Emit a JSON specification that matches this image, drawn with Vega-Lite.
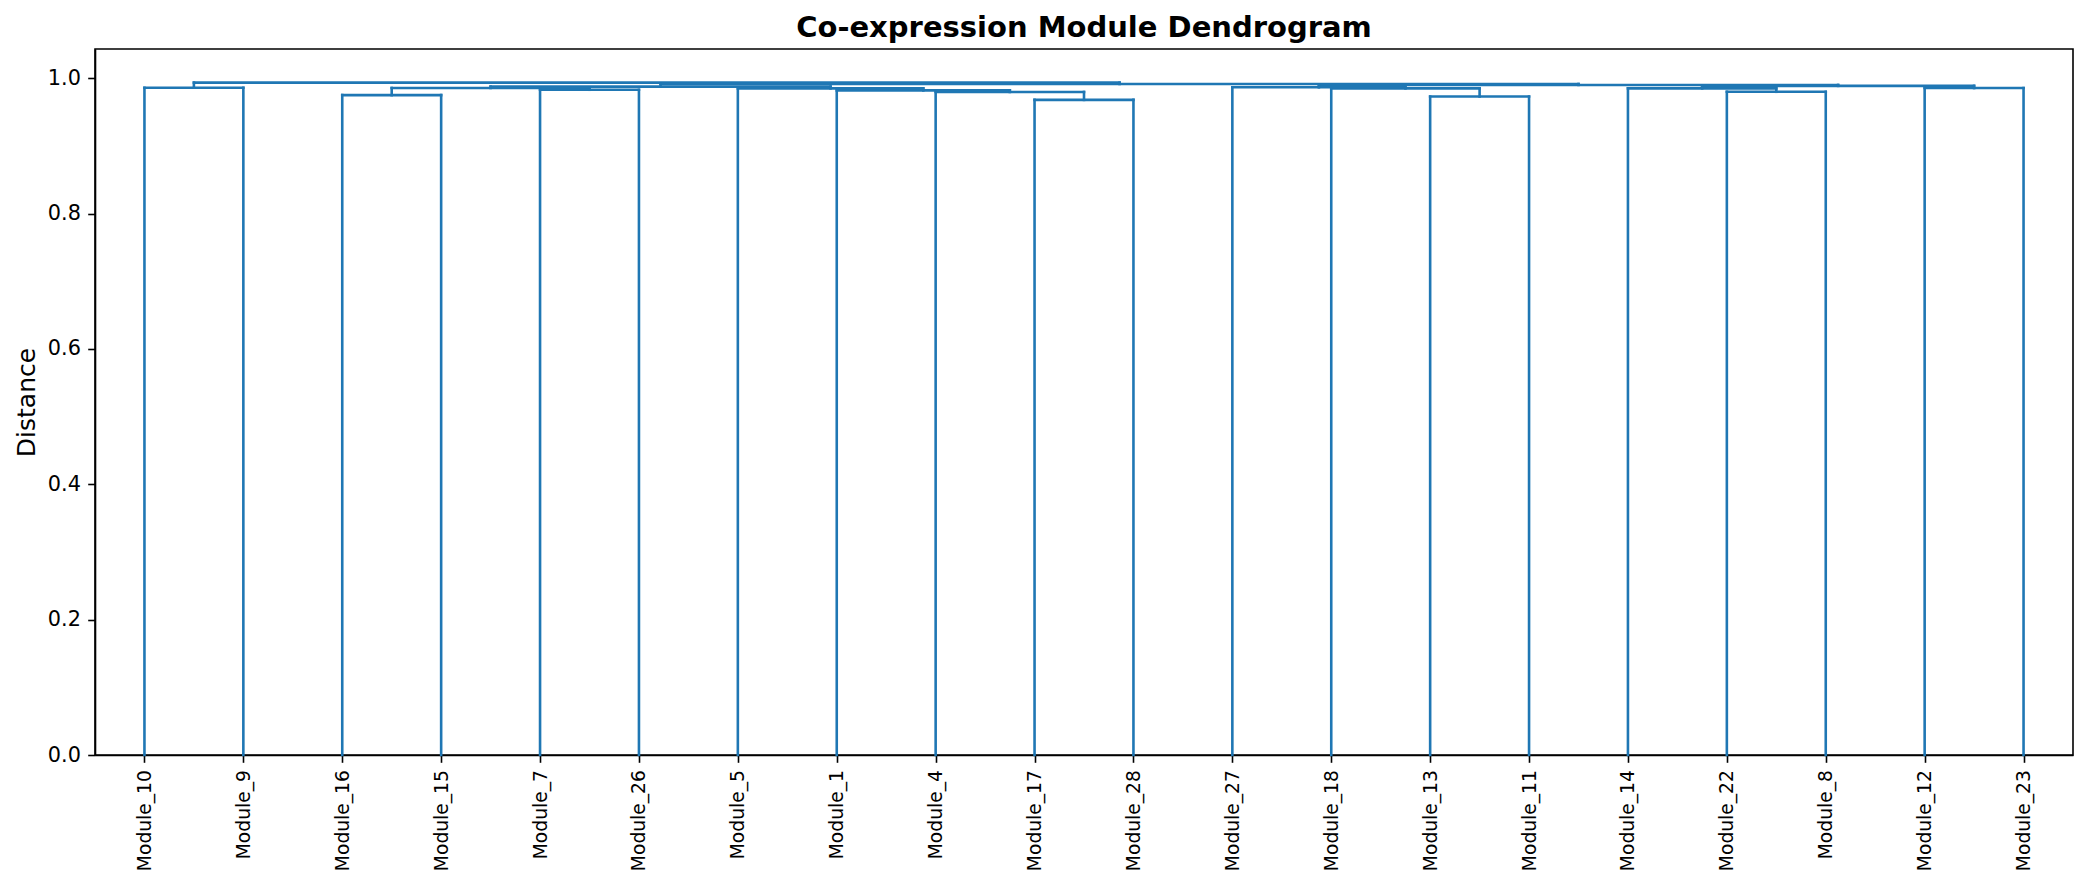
{
  "$schema": "https://vega.github.io/schema/vega-lite/v6.json",
  "width": 1978,
  "height": 706,
  "autosize": {"type": "none"},
  "padding": {"left": 95, "top": 49, "right": 9, "bottom": 129},
  "background": "white",
  "title": {
    "text": "Co-expression Module Dendrogram",
    "font": "DejaVu Sans",
    "fontSize": 29,
    "fontWeight": "bold",
    "color": "black",
    "anchor": "middle",
    "frame": "group",
    "baseline": "alphabetic",
    "offset": 12.5,
    "dy": 29.5
  },
  "config": {
    "view": {"stroke": "black", "strokeWidth": 1.6},
    "axis": {
      "domainColor": "black",
      "domainWidth": 1.6,
      "tickColor": "black",
      "tickWidth": 1.6,
      "tickSize": 7.3,
      "labelColor": "black",
      "labelFont": "DejaVu Sans",
      "labelPadding": 7.3,
      "grid": false,
      "titleFont": "DejaVu Sans",
      "titleColor": "black",
      "titleFontWeight": "normal"
    },
    "axisX": {"labelFontSize": 18.7},
    "axisY": {"labelFontSize": 20.8, "titleFontSize": 25, "titlePadding": 8}
  },
  "data": {
    "values": [
      {"link": "M10+M9", "xl": 0, "xr": 1, "h": 0.986, "hl": 0, "hr": 0},
      {"link": "M16+M15", "xl": 2, "xr": 3, "h": 0.975, "hl": 0, "hr": 0},
      {"link": "M7+M26", "xl": 4, "xr": 5, "h": 0.983, "hl": 0, "hr": 0},
      {"link": "L1", "xl": 2.5, "xr": 4.5, "h": 0.9856, "hl": 0.975, "hr": 0.983},
      {"link": "M17+M28", "xl": 9, "xr": 10, "h": 0.968, "hl": 0, "hr": 0},
      {"link": "M4+", "xl": 8, "xr": 9.5, "h": 0.9797, "hl": 0, "hr": 0.968},
      {"link": "M1+", "xl": 7, "xr": 8.75, "h": 0.982, "hl": 0, "hr": 0.9797},
      {"link": "M5+", "xl": 6, "xr": 7.875, "h": 0.985, "hl": 0, "hr": 0.982},
      {"link": "L", "xl": 3.5, "xr": 6.9375, "h": 0.9876, "hl": 0.9856, "hr": 0.985},
      {"link": "M13+M11", "xl": 13, "xr": 14, "h": 0.973, "hl": 0, "hr": 0},
      {"link": "M18+", "xl": 12, "xr": 13.5, "h": 0.985, "hl": 0, "hr": 0.973},
      {"link": "M27+", "xl": 11, "xr": 12.75, "h": 0.9866, "hl": 0, "hr": 0.985},
      {"link": "M22+M8", "xl": 16, "xr": 17, "h": 0.98, "hl": 0, "hr": 0},
      {"link": "M14+", "xl": 15, "xr": 16.5, "h": 0.985, "hl": 0, "hr": 0.98},
      {"link": "M12+M23", "xl": 18, "xr": 19, "h": 0.9855, "hl": 0, "hr": 0},
      {"link": "R2", "xl": 15.75, "xr": 18.5, "h": 0.9887, "hl": 0.985, "hr": 0.9855},
      {"link": "R", "xl": 11.875, "xr": 17.125, "h": 0.9901, "hl": 0.9866, "hr": 0.9887},
      {"link": "rest", "xl": 5.21875, "xr": 14.5, "h": 0.9915, "hl": 0.9876, "hr": 0.9901},
      {"link": "root", "xl": 0.5, "xr": 9.859375, "h": 0.9935, "hl": 0.986, "hr": 0.9915}
    ]
  },
  "layer": [
    {
      "mark": {"type": "rule", "color": "#1f77b4", "strokeWidth": 2.6, "strokeCap": "square"},
      "encoding": {
        "x": {
          "field": "xl",
          "type": "quantitative",
          "scale": {"domain": [-0.5, 19.5], "nice": false, "zero": false},
          "axis": {
            "title": null,
            "values": [0, 1, 2, 3, 4, 5, 6, 7, 8, 9, 10, 11, 12, 13, 14, 15, 16, 17, 18, 19],
            "labelExpr": "['Module_10','Module_9','Module_16','Module_15','Module_7','Module_26','Module_5','Module_1','Module_4','Module_17','Module_28','Module_27','Module_18','Module_13','Module_11','Module_14','Module_22','Module_8','Module_12','Module_23'][datum.value]",
            "labelAngle": 270,
            "labelOverlap": false,
            "labelBound": false
          }
        },
        "x2": {"field": "xr"},
        "y": {
          "field": "h",
          "type": "quantitative",
          "scale": {"domain": [0, 1.0432], "nice": false, "zero": true},
          "axis": {
            "title": "Distance",
            "values": [0, 0.2, 0.4, 0.6, 0.8, 1.0],
            "format": ".1f"
          }
        }
      }
    },
    {
      "mark": {"type": "rule", "color": "#1f77b4", "strokeWidth": 2.6, "strokeCap": "square"},
      "encoding": {
        "x": {"field": "xl", "type": "quantitative", "scale": {"domain": [-0.5, 19.5], "nice": false, "zero": false}, "axis": {"title": null}},
        "y": {"field": "hl", "type": "quantitative", "scale": {"domain": [0, 1.0432], "nice": false}, "axis": {"title": "Distance"}},
        "y2": {"field": "h"}
      }
    },
    {
      "mark": {"type": "rule", "color": "#1f77b4", "strokeWidth": 2.6, "strokeCap": "square"},
      "encoding": {
        "x": {"field": "xr", "type": "quantitative", "scale": {"domain": [-0.5, 19.5], "nice": false, "zero": false}, "axis": {"title": null}},
        "y": {"field": "hr", "type": "quantitative", "scale": {"domain": [0, 1.0432], "nice": false}, "axis": {"title": "Distance"}},
        "y2": {"field": "h"}
      }
    }
  ]
}
